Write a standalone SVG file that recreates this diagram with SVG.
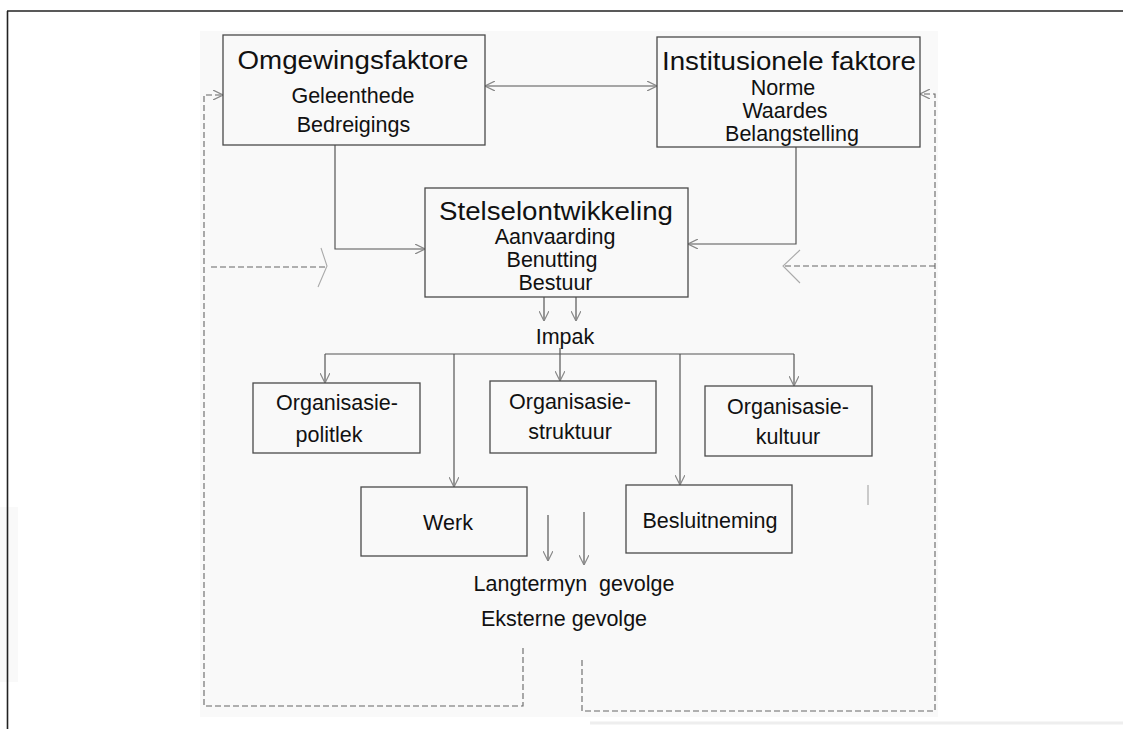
<svg xmlns="http://www.w3.org/2000/svg" width="1123" height="729" viewBox="0 0 1123 729">
<style>
.box{fill:none;stroke:#4a4a4a;stroke-width:1.3}
.ln{fill:none;stroke:#555;stroke-width:1.2}
.ds{fill:none;stroke:#666;stroke-width:1.1;stroke-dasharray:6 3}
.t1{font-family:"Liberation Sans",Arial,sans-serif;font-size:26.5px;fill:#111;text-anchor:middle}
.t2{font-family:"Liberation Sans",Arial,sans-serif;font-size:21.5px;fill:#111;text-anchor:middle}
.chev{fill:none;stroke:#aaa;stroke-width:1.1}
</style>
<defs>
<marker id="ah" viewBox="0 0 10 10" refX="10" refY="5" markerWidth="10" markerHeight="10" markerUnits="userSpaceOnUse" orient="auto-start-reverse">
<path d="M0,0 L10,5 L0,10" fill="none" stroke="#888" stroke-width="1.2"/>
</marker>
</defs>
<rect x="0" y="0" width="1123" height="729" fill="#fff"/>
<rect x="200" y="31" width="738" height="686" fill="#f9f9f9"/>
<rect x="0" y="507" width="18" height="175" fill="#f9f9f9"/>
<line x1="590" y1="723" x2="1123" y2="723" stroke="#eee" stroke-width="3"/>
<g id="frame">
<line x1="7" y1="11" x2="1123" y2="11" stroke="#222" stroke-width="1.6"/>
<line x1="7.5" y1="11" x2="7.5" y2="729" stroke="#222" stroke-width="1.6"/>
</g>
<g id="connectors">
<line class="ln" x1="485" y1="86" x2="657" y2="86" marker-start="url(#ah)" marker-end="url(#ah)"/>
<polyline class="ln" points="335,145 335,249 425,249" marker-end="url(#ah)"/>
<polyline class="ln" points="796,147 796,244 688,244" marker-end="url(#ah)"/>
<line class="ln" x1="544" y1="297" x2="544" y2="321" marker-end="url(#ah)"/>
<line class="ln" x1="576" y1="297" x2="576" y2="321" marker-end="url(#ah)"/>
<line class="ln" x1="325" y1="354" x2="794" y2="354"/>
<line class="ln" x1="560" y1="348" x2="560" y2="381" marker-end="url(#ah)"/>
<line class="ln" x1="325" y1="354" x2="325" y2="383" marker-end="url(#ah)"/>
<line class="ln" x1="794" y1="354" x2="794" y2="386" marker-end="url(#ah)"/>
<line class="ln" x1="454" y1="354" x2="454" y2="487" marker-end="url(#ah)"/>
<line class="ln" x1="680" y1="354" x2="680" y2="485" marker-end="url(#ah)"/>
<line class="ln" x1="548" y1="515" x2="548" y2="561" marker-end="url(#ah)"/>
<line class="ln" x1="584" y1="512" x2="584" y2="565" marker-end="url(#ah)"/>
<path class="ds" d="M523,648 V706 H204 V95 H223" marker-end="url(#ah)"/>
<path class="ds" d="M211,267 H327"/>
<path class="chev" d="M321,248 L327,266 L318,287"/>
<path class="ds" d="M582,660 V711 H935 V94 H920" marker-end="url(#ah)"/>
<path class="ds" d="M935,266 H783"/>
<path class="chev" d="M800,250 L783,266 L800,283"/>
<line x1="868" y1="485" x2="868" y2="505" stroke="#aaa" stroke-width="1.2"/>
</g>
<g id="omgewingsfaktore">
<rect class="box" x="223" y="35" width="262" height="110"/>
<text class="t1" x="353" y="69" textLength="231" lengthAdjust="spacingAndGlyphs">Omgewingsfaktore</text>
<text class="t2" x="353" y="103">Geleenthede</text>
<text class="t2" x="353.5" y="132">Bedreigings</text>
</g>
<g id="institusionele">
<rect class="box" x="657" y="37" width="263" height="110"/>
<text class="t1" x="789" y="70" textLength="254" lengthAdjust="spacingAndGlyphs">Institusionele faktore</text>
<text class="t2" x="783" y="95">Norme</text>
<text class="t2" x="785" y="117.5">Waardes</text>
<text class="t2" x="792" y="140.5">Belangstelling</text>
</g>
<g id="stelselontwikkeling">
<rect class="box" x="425" y="188" width="263" height="109"/>
<text class="t1" x="556" y="220" textLength="234" lengthAdjust="spacingAndGlyphs">Stelselontwikkeling</text>
<text class="t2" x="555" y="244">Aanvaarding</text>
<text class="t2" x="552" y="267">Benutting</text>
<text class="t2" x="555.5" y="290">Bestuur</text>
</g>
<g id="impak">
<text class="t2" x="565" y="344">Impak</text>
</g>
<g id="politiek">
<rect class="box" x="253" y="383" width="167" height="70"/>
<text class="t2" x="337" y="410">Organisasie-</text>
<text class="t2" x="329" y="442">politlek</text>
</g>
<g id="struktuur">
<rect class="box" x="490" y="381" width="166" height="72"/>
<text class="t2" x="570" y="409">Organisasie-</text>
<text class="t2" x="570" y="438.5">struktuur</text>
</g>
<g id="kultuur">
<rect class="box" x="705" y="386" width="167" height="70"/>
<text class="t2" x="788" y="414">Organisasie-</text>
<text class="t2" x="788" y="444">kultuur</text>
</g>
<g id="werk">
<rect class="box" x="361" y="487" width="166" height="69"/>
<text class="t2" x="448" y="530">Werk</text>
</g>
<g id="besluitneming">
<rect class="box" x="626" y="485" width="166" height="68"/>
<text class="t2" x="710" y="528">Besluitneming</text>
</g>
<g id="gevolge">
<text class="t2" x="574" y="591" xml:space="preserve" style="white-space:pre">Langtermyn  gevolge</text>
<text class="t2" x="564" y="626">Eksterne gevolge</text>
</g>
</svg>
